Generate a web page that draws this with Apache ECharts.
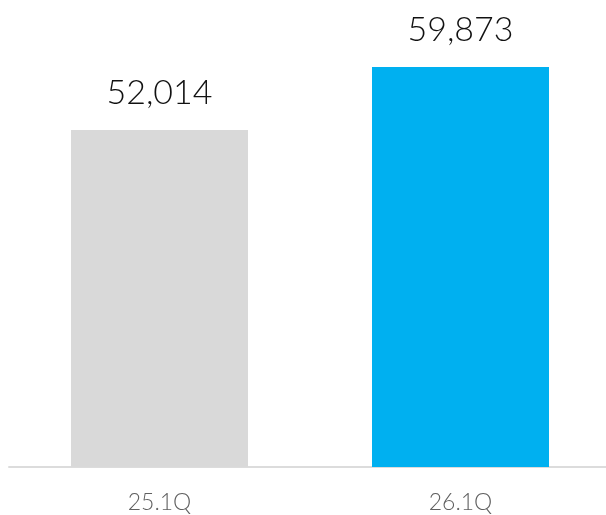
<!DOCTYPE html>
<html><head><meta charset="utf-8">
<script src="https://cdn.jsdelivr.net/npm/echarts@6/dist/echarts.min.js"></script>
<style>html,body{margin:0;padding:0;background:#fff}#c{width:606px;height:515px}</style>
</head><body><div id="c"></div>
<script>
var categories = ['25.1Q', '26.1Q'];
var values = [52014, 59873];
var colors = ['#d9d9d9', '#00b0f0'];

var chart = echarts.init(document.getElementById('c'), null, {renderer: 'canvas'});
chart.setOption({
  animation: false,
  grid: {left: 9, width: 602, top: 66, bottom: 48, outerBoundsMode: 'none', containLabel: false},
  xAxis: {
    type: 'category', data: categories,
    axisLine: {show: true, lineStyle: {color: '#dcdcdc', width: 2}},
    axisTick: {show: false},
    axisLabel: {color: '#606060', fontSize: 23, fontFamily: 'Lato', fontWeight: 300, margin: 24}
  },
  yAxis: {type: 'value', min: 10000, max: 60000, show: false, splitLine: {show: false}},
  series: [{
    type: 'bar', barWidth: 177,
    data: values.map(function (v, i) { return {value: v, itemStyle: {color: colors[i]}}; }),
    label: {
      show: true, position: 'top', distance: 20,
      color: '#111', fontSize: 34, fontFamily: 'Lato', fontWeight: 300,
      formatter: function (p) { return p.value.toLocaleString('en-US'); }
    }
  }]
});
</script></body></html>
